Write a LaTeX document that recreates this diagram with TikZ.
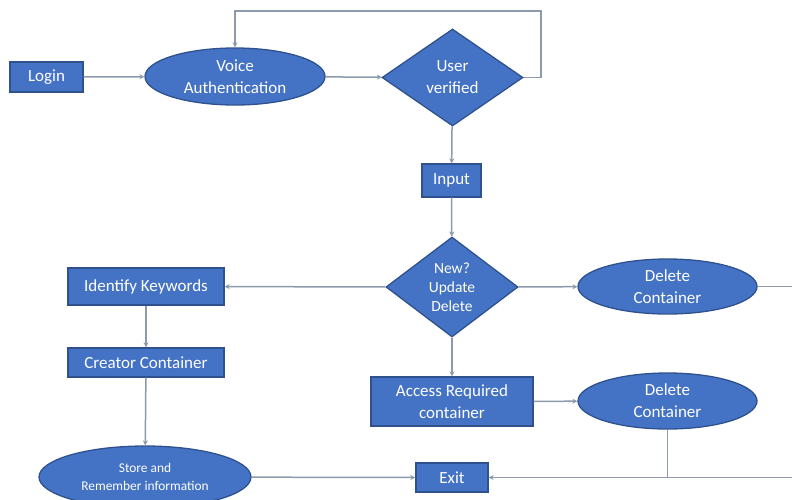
\documentclass[tikz,border=0pt]{standalone}
\usepackage{fontspec}
\setmainfont{Carlito}
\usetikzlibrary{shapes.geometric,arrows.meta}
\definecolor{boxfill}{HTML}{4472C4}
\definecolor{boxline}{HTML}{2F528F}
\definecolor{conncol}{HTML}{8C9AAB}
\tikzset{
  base/.style={fill=boxfill,draw=boxline,line width=1.3pt,text=white,inner sep=0pt,align=center,font=\fontsize{17}{22}\selectfont},
  rectbox/.style={base,rectangle},
  ellbox/.style={base,ellipse},
  decbox/.style={base,diamond},
  conn/.style={draw=conncol,line width=1.5pt},
  arr/.style={conn,-{Stealth[length=5pt,width=5pt]}}
}
\begin{document}
\begin{tikzpicture}[x=1pt,y=-1pt]
\useasboundingbox (0,0) rectangle (792,499);
\node[rectbox,minimum width=73,minimum height=30] (login) at (46.5,77) {Login};
\node[ellbox,minimum width=180,minimum height=57] (va) at (235,76.5) {Voice\\Authentication};
\node[decbox,aspect=1.45,minimum width=141,minimum height=97] (uv) at (452.5,77.5) {User\\verified};
\node[rectbox,minimum width=59,minimum height=33] (input) at (451.5,180.5) {Input};
\node[decbox,aspect=1.32,minimum width=132,minimum height=100,font=\fontsize{15.5}{19}\selectfont] (d2) at (452,287) {New?\\Update\\Delete};
\node[ellbox,minimum width=179,minimum height=55] (dc1) at (667.5,286.5) {Delete\\Container};
\node[rectbox,minimum width=156,minimum height=37] (ik) at (146,286.5) {Identify Keywords};
\node[rectbox,minimum width=156,minimum height=29] (cc) at (146,362.5) {Creator Container};
\node[rectbox,minimum width=162,minimum height=49] (arc) at (452,401.5) {Access Required\\container};
\node[ellbox,minimum width=179,minimum height=56] (dc2) at (667.5,401) {Delete\\Container};
\node[ellbox,minimum width=212,minimum height=62,font=\fontsize{13.4}{18}\selectfont] (store) at (145,477) {Store and\\Remember information};
\node[rectbox,minimum width=72,minimum height=29] (exit) at (452,477.5) {Exit};
\coordinate (loopR) at (541,11);
\coordinate (rightTop) at (805,286.5);
\coordinate (rightBot) at (805,477.5);
\draw[arr] (login) -- (va);
\draw[arr] (va) -- (uv);
\draw[arr] (uv.east) -| (loopR) -| (va.north);
\draw[arr] (uv) -- (input);
\draw[arr] (input) -- (d2);
\draw[arr] (d2) -- (dc1);
\draw[arr] (d2) -- (ik);
\draw[arr] (ik) -- (cc);
\draw[arr] (cc) -- (store);
\draw[arr] (d2) -- (arc);
\draw[arr] (arc) -- (dc2);
\draw[arr] (store) -- (exit);
\draw[arr] (dc1.east) -- (rightTop) -- (rightBot) -- (exit.east);
\draw[conn] (dc2.south) -- (dc2.south |- exit.east);
\end{tikzpicture}
\end{document}
